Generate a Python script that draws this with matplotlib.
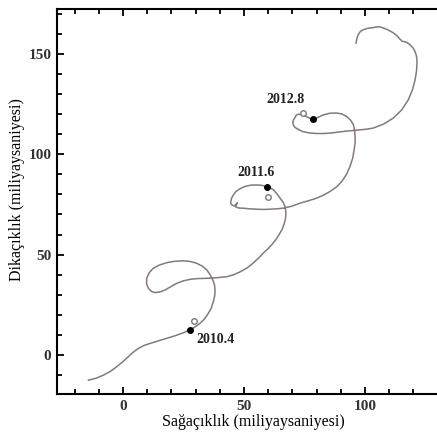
import matplotlib
matplotlib.use("Agg")
import matplotlib.pyplot as plt
from matplotlib.ticker import MultipleLocator

plt.rcParams['font.family'] = ['Liberation Serif', 'DejaVu Serif']

# path of the photocentre (milli-arcsec)
path_x = [-14.3, -11.0, -8.1, -5.2, -2.6, 0.0, 2.2, 4.2, 6.3, 8.7, 11.2, 14.5, 18.1,
          21.5, 24.9, 27.7, 30.0, 31.8, 33.7, 35.2, 36.5, 37.3, 37.9, 38.0, 37.8, 37.1,
          36.0, 34.6, 32.7, 30.4, 27.8, 24.9, 21.4, 18.1, 15.0, 12.5, 10.8, 9.8, 9.7,
          10.5, 11.7, 13.2, 15.2, 17.4, 19.8, 22.2, 24.8, 27.7, 31.0, 34.6, 38.7, 42.8,
          45.8, 48.5, 51.2, 53.5, 55.8, 57.9, 59.8, 61.5, 63.2, 64.5, 65.7, 66.5, 67.1,
          67.3, 67.2, 66.9, 66.1, 64.9, 63.6, 62.1, 60.8, 59.4, 57.3, 55.2, 53.1, 51.1,
          49.3, 47.7, 46.5, 45.6, 44.9, 44.5, 44.5, 44.9, 45.6, 46.3, 47.3, 46.4, 47.8,
          49.7, 52.4, 55.2, 58.0, 60.7, 63.5, 66.2, 69.7, 73.1, 76.6, 80.0, 82.8, 85.5,
          88.2, 90.4, 92.3, 93.8, 94.9, 95.5, 95.9, 95.9, 95.7, 95.2, 94.0, 92.4, 90.5,
          88.3, 85.5, 82.8, 80.7, 78.6, 77.4, 76.4, 75.4, 74.4, 73.3, 72.3, 71.5, 71.1,
          70.4, 70.2, 70.4, 71.1, 72.5, 74.4, 77.0, 80.0, 82.8, 85.5, 89.0, 92.4, 97.0,
          100.3, 103.4, 107.7, 111.7, 115.2, 117.9, 119.6, 120.7, 121.3, 121.5, 121.3,
          120.7, 119.8, 118.6, 117.5, 116.5, 115.8, 115.3, 114.9, 114.5, 113.2, 111.6,
          109.0, 106.2, 104.8, 103.4, 101.2, 99.3, 98.0, 97.2, 96.6, 96.3]
path_y = [-12.5, -11.5, -10.0, -8.1, -5.8, -3.2, -0.8, 1.4, 3.3, 4.8, 5.8, 7.0, 8.3,
          9.6, 11.1, 12.5, 14.2, 15.8, 18.0, 20.7, 23.5, 26.6, 29.5, 32.4, 35.0, 37.4,
          40.0, 42.4, 44.3, 45.7, 46.6, 46.9, 46.7, 46.0, 44.8, 43.2, 41.0, 38.2, 35.5,
          33.2, 31.7, 31.1, 31.4, 32.4, 34.1, 35.7, 36.9, 37.7, 38.1, 38.2, 38.5, 39.0,
          40.0, 41.5, 43.3, 45.5, 48.0, 50.7, 52.8, 55.0, 57.5, 60.0, 62.5, 65.0, 67.5,
          70.0, 72.0, 74.0, 76.2, 78.1, 80.3, 82.3, 83.3, 83.9, 84.5, 84.7, 84.6, 84.2,
          83.4, 82.3, 81.2, 79.8, 78.2, 76.4, 75.5, 74.8, 74.4, 74.5, 75.8, 73.9, 73.2,
          73.1, 72.8, 72.6, 72.5, 72.6, 72.8, 73.1, 74.1, 75.6, 76.8, 78.1, 79.6, 81.4,
          83.7, 86.4, 89.9, 93.9, 98.0, 102.2, 105.6, 108.8, 111.9, 114.7, 117.0, 118.8,
          120.0, 120.5, 120.4, 119.6, 118.4, 117.3, 117.8, 118.3, 119.0, 119.4, 119.8,
          119.9, 119.3, 118.3, 117.0, 115.8, 114.5, 113.3, 112.3, 111.2, 110.6, 110.3,
          110.3, 110.5, 111.0, 111.5, 112.0, 112.4, 113.0, 115.0, 118.0, 122.1, 127.1,
          132.0, 137.1, 141.5, 146.0, 148.8, 151.0, 153.0, 154.5, 155.5, 156.0, 156.1,
          156.2, 156.8, 157.2, 159.0, 160.5, 162.2, 163.4, 163.4, 163.0, 162.7, 162.0,
          161.0, 159.5, 157.5, 155.3]

epochs = ['2010.4', '2011.6', '2012.8']
pos_x = [27.7, 59.4, 78.6]
pos_y = [12.5, 83.9, 117.3]
obs_x = [29.3, 60.1, 74.3]
obs_y = [17.1, 78.6, 120.5]
label_x = [30.4, 47.2, 59.4]
label_y = [7.9, 91.0, 127.4]

fig = plt.figure(figsize=(4.37, 4.36), dpi=100)
ax = fig.add_axes([0.1304, 0.0963, 0.897, 0.8831])

ax.plot(path_x, path_y, color='#857a78', lw=1.1, zorder=2)
ax.plot(pos_x, pos_y, 'o', color='black', ms=4, zorder=3)
ax.plot(obs_x, obs_y, 'o', mfc='white', mec='#7a7a7a', mew=1.0, ms=4, zorder=3)
for t, lx, ly in zip(epochs, label_x, label_y):
    ax.text(lx, ly, t, fontsize=10, fontweight='bold', ha='left', va='center',
            color='#222222')

ax.set_xlim(-27.3, 134.7)
ax.set_ylim(-19.4, 172.3)
ax.xaxis.set_major_locator(MultipleLocator(50))
ax.xaxis.set_minor_locator(MultipleLocator(10))
ax.yaxis.set_major_locator(MultipleLocator(50))
ax.yaxis.set_minor_locator(MultipleLocator(10))
ax.tick_params(which='both', direction='in', top=True, right=False, width=1.3,
               labelsize=11)
ax.tick_params(which='major', length=5, pad=4)
ax.tick_params(which='minor', length=3.5)
for lab in ax.get_xticklabels() + ax.get_yticklabels():
    lab.set_fontweight('bold')
    lab.set_color('#333333')
for s in ax.spines.values():
    s.set_linewidth(1.5)

ax.set_xlabel('Sağaçıklık (miliyaysaniyesi)', fontsize=11.5)
ax.set_ylabel('Dikaçıklık (miliyaysaniyesi)', fontsize=11.5)
ax.xaxis.set_label_coords(0.5, -0.052)
ax.yaxis.set_label_coords(-0.082, 0.53)

fig.savefig('out.png', dpi=100)
